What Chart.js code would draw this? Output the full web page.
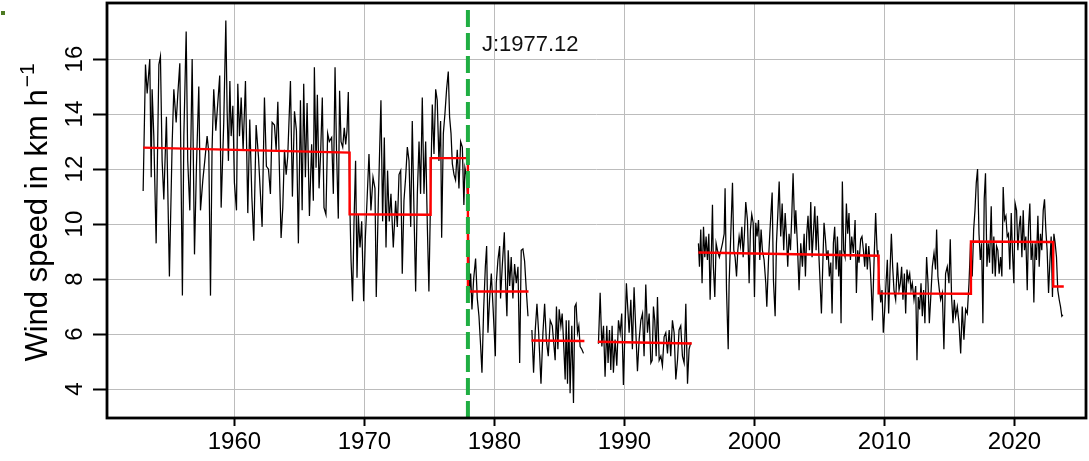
<!DOCTYPE html>
<html>
<head>
<meta charset="utf-8">
<script src="https://cdn.jsdelivr.net/npm/chart.js@4.4.0/dist/chart.umd.min.js"></script>
<style>
  html, body { margin: 0; padding: 0; background: #fff; }
  #wrap { position: relative; width: 1089px; height: 461px; }
</style>
</head>
<body>
<div id="wrap"><canvas id="windChart"></canvas></div>
<script>
// Monthly mean wind speed (km/h), one array pair per unbroken stretch
const yearsA = [1952.98,1953.16,1953.29,1953.49,1953.60,1953.67,1953.80,1953.98,1954.19,1954.31,1954.44,1954.57,1954.77,1955.00,1955.21,1955.34,1955.52,1955.65,1955.80,1956.00,
  1956.11,1956.29,1956.41,1956.57,1956.75,1956.93,1957.08,1957.26,1957.39,1957.57,1957.72,1957.90,1958.03,1958.16,1958.28,1958.41,1958.57,1958.72,1958.87,1958.98,
  1959.18,1959.34,1959.44,1959.54,1959.65,1959.75,1959.88,1960.00,1960.16,1960.26,1960.39,1960.52,1960.67,1960.85,1961.03,1961.18,1961.34,1961.49,1961.67,1961.85,
  1962.00,1962.13,1962.31,1962.46,1962.62,1962.77,1962.90,1963.08,1963.21,1963.34,1963.46,1963.59,1963.72,1963.85,1963.98,1964.10,1964.31,1964.46,1964.62,1964.77,
  1964.92,1965.08,1965.21,1965.33,1965.46,1965.59,1965.77,1965.94,1966.07,1966.15,1966.28,1966.38,1966.51,1966.63,1966.76,1966.89,1967.04,1967.17,1967.30,1967.48,
  1967.61,1967.74,1967.86,1967.99,1968.09,1968.20,1968.33,1968.45,1968.56,1968.66,1968.76,1968.86,1968.97,1969.09,1969.20,1969.32,1969.43,1969.53,1969.66,1969.79,
  1969.94,1970.07,1970.20,1970.35,1970.50,1970.66,1970.81,1970.91,1971.07,1971.27,1971.40,1971.53,1971.66,1971.78,1971.91,1972.04,1972.22,1972.40,1972.53,1972.66,
  1972.79,1972.91,1973.04,1973.17,1973.30,1973.43,1973.56,1973.68,1973.81,1973.94,1974.07,1974.20,1974.32,1974.45,1974.58,1974.71,1974.84,1974.96,1975.09,1975.22,
  1975.35,1975.48,1975.60,1975.73,1975.86,1975.94,1976.07,1976.19,1976.32,1976.45,1976.55,1976.66,1976.76,1976.89,1977.01,1977.14,1977.27,1977.40,1977.53,1977.65,
  1977.73,1977.83,1977.95,1978.09,1978.17,1978.27,1978.40,1978.55,1978.68,1978.81,1978.94,1979.04,1979.17,1979.30,1979.40,1979.50,1979.63,1979.76,1979.89,1980.07,
  1980.14,1980.27,1980.40,1980.47,1980.60,1980.76,1980.86,1980.96,1981.06,1981.17,1981.29,1981.42,1981.55,1981.68,1981.81,1981.94,1982.06,1982.19,1982.32,1982.45,
  1982.58];
const speedA = [11.2,15.8,14.75,16.0,11.7,14.9,13.2,9.3,15.8,16.1,12.3,10.9,13.9,8.1,12.9,14.9,13.7,14.75,15.85,7.4,
  13.2,17.0,12.3,10.5,16.0,8.9,12.1,15.0,10.5,11.6,12.3,13.2,12.6,7.4,12.7,14.9,13.4,14.4,15.4,10.6,
  13.7,17.4,14.1,12.3,15.2,13.2,14.3,11.5,10.5,15.1,13.2,14.6,12.7,15.2,10.4,13.8,11.0,9.4,13.6,12.45,
  11.1,9.9,14.6,12.1,12.0,11.1,13.7,13.6,12.7,14.45,12.0,9.5,10.6,12.7,11.8,12.45,15.2,11.0,14.1,13.4,
  9.3,14.5,10.5,15.1,11.7,14.4,10.3,12.9,10.85,15.7,12.05,14.7,11.3,12.55,14.6,10.6,10.35,13.3,13.0,13.15,
  11.1,15.7,12.55,10.2,14.85,13.0,12.8,13.5,12.9,13.4,14.8,11.1,8.7,7.2,10.1,12.3,8.05,10.35,9.15,10.1,
  7.2,9.5,10.85,12.55,10.5,11.7,11.3,7.35,10.85,14.5,10.1,13.15,9.15,11.95,10.1,11.1,9.15,10.85,9.9,11.8,
  11.95,8.2,10.85,11.7,12.8,12.3,9.9,13.75,10.5,7.55,11.1,13.0,11.1,14.6,11.1,13.0,9.9,7.55,11.1,14.35,
  12.55,14.9,14.5,12.3,13.75,9.5,13.3,14.0,14.9,15.55,13.9,13.3,12.2,11.8,11.6,12.7,11.3,13.0,12.8,10.7,
  12.05,11.8,10.9,7.6,8.2,6.9,8.0,8.75,7.3,6.65,5.55,4.6,6.9,8.45,9.2,6.05,7.3,8.2,7.0,5.2,
  7.85,8.7,9.2,7.3,8.45,9.7,7.85,6.65,9.05,7.75,8.8,7.3,8.55,7.85,8.45,4.95,9.05,9.1,8.65,7.6,
  6.65];
const yearsB = [1982.88,1983.01,1983.14,1983.27,1983.40,1983.58,1983.73,1983.86,1983.99,1984.14,1984.29,1984.45,1984.67,1984.77,1984.88,1984.98,1985.11,1985.21,1985.31,1985.44,
  1985.52,1985.62,1985.72,1985.82,1985.95,1986.08,1986.18,1986.28,1986.39,1986.49,1986.59,1986.72,1986.85];
const speedB = [6.15,4.6,6.15,7.1,6.05,4.2,6.05,7.1,5.8,5.2,6.5,6.3,5.05,7.0,5.45,6.9,6.3,6.75,5.8,4.35,
  6.5,4.2,6.5,3.85,6.3,3.5,7.0,7.1,6.05,6.3,5.55,5.45,5.3];
const yearsC = [1988.00,1988.13,1988.26,1988.39,1988.51,1988.64,1988.74,1988.85,1988.95,1989.05,1989.15,1989.28,1989.41,1989.54,1989.67,1989.79,1989.92,1990.05,1990.15,1990.26,
  1990.36,1990.49,1990.61,1990.74,1990.90,1991.00,1991.13,1991.26,1991.39,1991.51,1991.64,1991.77,1991.90,1992.03,1992.13,1992.23,1992.33,1992.44,1992.54,1992.67,
  1992.80,1992.92,1993.05,1993.18,1993.31,1993.44,1993.56,1993.69,1993.82,1993.95,1994.08,1994.20,1994.33,1994.46,1994.59,1994.72,1994.85,1994.97,1995.10];
const speedC = [5.65,7.5,5.55,6.3,4.45,6.3,4.95,6.15,4.7,6.3,4.6,5.8,4.85,6.5,6.05,6.75,4.15,6.3,7.85,6.9,
  6.05,7.25,5.45,7.7,5.8,4.65,5.8,6.5,6.75,5.2,7.8,6.05,6.75,4.95,5.05,7.0,6.5,5.2,7.35,5.05,
  5.2,4.85,5.9,6.05,5.3,6.15,5.2,6.5,6.05,4.35,5.05,6.15,6.3,5.2,4.95,7.1,4.2,5.45,5.7];
const yearsD = [1995.69,1995.77,1995.87,1995.97,1996.08,1996.18,1996.28,1996.38,1996.49,1996.59,1996.69,1996.77,1996.84,1996.95,1997.05,1997.15,1997.30,1997.54,1997.67,1997.74,
  1997.85,1997.98,1998.05,1998.18,1998.31,1998.41,1998.51,1998.62,1998.72,1998.82,1998.92,1999.03,1999.13,1999.23,1999.33,1999.46,1999.59,1999.69,1999.79,1999.90,
  2000.00,2000.10,2000.20,2000.31,2000.41,2000.51,2000.61,2000.74,2000.87,2000.95,2001.08,2001.18,2001.28,2001.36,2001.46,2001.59,2001.69,2001.79,2001.90,2002.02,
  2002.13,2002.25,2002.36,2002.46,2002.56,2002.66,2002.77,2002.87,2002.97,2003.10,2003.18,2003.30,2003.43,2003.56,2003.69,2003.82,2003.92,2004.02,2004.12,2004.23,
  2004.33,2004.43,2004.53,2004.64,2004.74,2004.84,2004.97,2005.05,2005.15,2005.25,2005.35,2005.46,2005.56,2005.66,2005.76,2005.87,2005.97,2006.07,2006.17,2006.28,
  2006.38,2006.48,2006.58,2006.66,2006.76,2006.86,2006.97,2007.07,2007.17,2007.27,2007.38,2007.48,2007.61,2007.74,2007.84,2007.94,2008.04,2008.17,2008.27,2008.38,
  2008.48,2008.58,2008.68,2008.79,2008.89,2008.99,2009.07,2009.20,2009.32,2009.43,2009.50,2009.61,2009.71,2009.81,2009.91,2010.02,2010.12,2010.22,2010.32,2010.43,
  2010.53,2010.63,2010.73,2010.86,2010.99,2011.12,2011.22,2011.32,2011.42,2011.53,2011.63,2011.73,2011.83,2011.94,2012.04,2012.14,2012.27,2012.40,2012.50,2012.60,
  2012.70,2012.81,2012.91,2013.01,2013.11,2013.24,2013.35,2013.45,2013.55,2013.68,2013.81,2013.93,2014.01,2014.11,2014.22,2014.32,2014.45,2014.57,2014.70,2014.83,
  2014.96,2015.06,2015.16,2015.27,2015.37,2015.47,2015.60,2015.73,2015.86,2015.98,2016.11,2016.24,2016.37,2016.50,2016.62,2016.75,2016.86,2016.96,2017.06,2017.16,
  2017.27,2017.37,2017.47,2017.57,2017.67,2017.77,2017.88,2017.98,2018.08,2018.21,2018.31,2018.41,2018.52,2018.62,2018.72,2018.82,2018.93,2019.03,2019.13,2019.23,
  2019.34,2019.44,2019.54,2019.64,2019.75,2019.85,2019.95,2020.05,2020.16,2020.26,2020.36,2020.46,2020.57,2020.67,2020.77,2020.87,2020.98,2021.08,2021.18,2021.28,
  2021.39,2021.49,2021.59,2021.69,2021.80,2021.90,2022.00,2022.10,2022.21,2022.31,2022.41,2022.51,2022.62,2022.72,2022.82,2022.92,2023.03,2023.13,2023.23,2023.33,
  2023.44,2023.54,2023.64,2023.72];
const speedD = [9.3,8.45,9.8,7.85,9.9,8.8,9.55,8.7,9.65,7.25,9.05,10.7,8.45,7.35,9.3,9.05,8.8,9.3,9.65,11.3,
  7.6,5.45,7.85,9.65,11.5,9.05,8.8,8.1,9.05,9.55,9.2,9.9,8.8,9.65,10.8,10.15,7.85,9.8,10.35,10.05,
  7.35,10.05,9.55,10.15,8.7,9.8,9.05,8.7,7.85,7.0,8.7,9.65,10.5,11.15,7.95,6.65,9.3,10.3,11.55,9.55,
  10.75,9.05,10.4,9.55,8.45,9.65,9.05,10.3,11.85,9.65,10.5,9.3,7.6,9.3,8.45,9.65,8.1,9.65,10.3,9.05,
  10.8,8.8,9.65,10.65,9.05,10.3,8.7,7.85,6.75,8.45,10.05,9.45,8.7,9.05,8.1,8.6,6.75,9.3,9.9,8.35,
  9.55,8.1,9.05,6.4,11.55,9.05,8.8,10.75,9.65,10.4,8.7,9.55,8.95,10.15,7.5,9.05,8.6,9.45,9.55,9.05,
  8.45,9.3,8.35,9.2,8.6,7.6,6.5,8.7,10.4,9.05,8.8,7.85,7.15,7.6,6.05,6.9,7.85,8.7,6.75,8.35,
  9.65,8.45,7.6,7.25,8.6,7.6,7.85,8.45,7.25,8.2,6.75,8.35,7.95,8.2,7.6,7.85,7.25,7.75,5.05,7.35,
  6.9,7.85,6.65,7.6,6.4,8.8,7.85,6.4,7.25,8.45,8.95,8.35,9.8,8.1,7.6,7.25,7.5,5.45,8.2,8.45,
  7.85,9.45,7.35,6.4,7.25,6.65,7.0,6.4,5.3,7.0,5.8,6.9,6.75,7.85,9.3,8.1,9.8,10.5,11.5,12.0,
  9.65,8.7,9.3,6.4,10.9,11.85,8.45,9.3,8.6,10.65,8.2,9.55,8.1,9.2,9.05,8.2,8.8,8.1,11.35,10.15,
  10.3,9.55,9.65,8.35,10.4,8.95,7.85,10.75,10.5,9.05,9.9,10.3,8.8,10.5,9.05,9.55,7.6,9.9,10.75,8.7,
  9.3,7.15,9.3,8.7,10.3,8.45,9.65,9.05,10.5,10.9,9.8,9.05,7.5,8.6,9.55,7.35,9.65,9.3,8.8,7.6,
  7.25,7.0,6.65,6.7];

// Segment means from the change-point fit (red)
const levelFrom  = [1952.98, 1968.86, 1975.09, 1977.96, 1982.85, 1987.95, 1995.69, 2009.55, 2016.65, 2022.98];
const levelTo    = [1968.86, 1975.09, 1977.96, 1982.62, 1986.92, 1995.18, 2009.55, 2016.65, 2022.98, 2023.79];
const levelStart = [12.78, 10.36, 12.4, 7.55, 5.77, 5.72, 8.97, 7.48, 9.37, 7.73];
const levelEnd   = [12.6, 10.34, 12.4, 7.55, 5.75, 5.66, 8.85, 7.47, 9.35, 7.73];

// Detected break
const breakYear = 1977.96;
const breakLabel = 'J:1977.12';
const breakLabelLevel = 16.5;

const xTicks = [1960, 1970, 1980, 1990, 2000, 2010, 2020];
const yTicks = [4, 6, 8, 10, 12, 14, 16];
const xMin = 1950.2, xMax = 2025.5;
const yMin = 2.95, yMax = 18.04;

const FONT = '"Liberation Sans", Arial, Helvetica, sans-serif';

function joinSegments(parts) {
    const out = [];
    parts.forEach(([xs, ys], i) => {
        if (i > 0) out.push({ x: xs[0], y: null });
        xs.forEach((x, j) => out.push({ x: x, y: ys[j] }));
    });
    return out;
}

const windPts = joinSegments([[yearsA, speedA], [yearsB, speedB], [yearsC, speedC], [yearsD, speedD]]);

const levelPts = [];
levelFrom.forEach((x0, i) => {
    if (i > 0 && x0 !== levelTo[i - 1]) levelPts.push({ x: x0, y: null });
    levelPts.push({ x: x0, y: levelStart[i] }, { x: levelTo[i], y: levelEnd[i] });
});

const decor = {
    id: 'decor',
    afterDatasetsDraw(chart) {
        const { ctx, chartArea: a, scales: { x, y } } = chart;
        ctx.save();
        // break label
        ctx.font = '22px ' + FONT;
        ctx.fillStyle = '#111';
        ctx.textAlign = 'left';
        ctx.textBaseline = 'middle';
        ctx.fillText(breakLabel, x.getPixelForValue(breakYear) + 14, y.getPixelForValue(breakLabelLevel));
        // frame
        ctx.strokeStyle = '#000';
        ctx.lineWidth = 2.8;
        ctx.strokeRect(a.left, a.top, a.right - a.left, a.bottom - a.top);
        // y axis title with superscript
        const main = 'Wind speed in km h', sup = '\u22121';
        ctx.font = '31px ' + FONT;
        const wMain = ctx.measureText(main).width;
        ctx.font = '21px ' + FONT;
        const wSup = ctx.measureText(sup).width;
        ctx.translate(47, (a.top + a.bottom) / 2 + 2);
        ctx.rotate(-Math.PI / 2);
        ctx.textBaseline = 'alphabetic';
        ctx.fillStyle = '#000';
        const x0 = -(wMain + wSup + 2) / 2;
        ctx.font = '31px ' + FONT;
        ctx.fillText(main, x0, 0);
        ctx.font = '21px ' + FONT;
        ctx.fillText(sup, x0 + wMain + 2, -13);
        ctx.restore();
        // small mark in the corner of the original figure
        ctx.save();
        ctx.fillStyle = '#4d7a22';
        ctx.fillRect(1, 11, 4, 4);
        ctx.restore();
    }
};

window.onload = () => {
    const ctx = document.getElementById('windChart').getContext('2d');
    new Chart(ctx, {
        type: 'line',
        data: {
            datasets: [{
                label: 'break',
                data: [{ x: breakYear, y: yMin }, { x: breakYear, y: yMax }],
                borderColor: '#1fae42',
                borderWidth: 4,
                borderDash: [17, 6],
                pointRadius: 0
            },
            {
                label: 'segment mean',
                data: levelPts,
                borderColor: '#ff0000',
                borderWidth: 2.4,
                pointRadius: 0,
                spanGaps: false
            },
            {
                label: 'wind speed',
                data: windPts,
                borderColor: '#000000',
                borderWidth: 1.25,
                pointRadius: 0,
                spanGaps: false
            }]
        },
        options: {
            responsive: true,
            maintainAspectRatio: false,
            devicePixelRatio: 1,
            animation: false,
            layout: { padding: { left: 0, top: 3, right: 3, bottom: 0 } },
            plugins: { legend: { display: false }, tooltip: { enabled: false } },
            elements: { line: { tension: 0 } },
            scales: {
                x: {
                    type: 'linear',
                    min: xMin,
                    max: xMax,
                    afterBuildTicks: s => { s.ticks = xTicks.map(v => ({ value: v })); },
                    afterFit: s => { s.height = 43; s.paddingLeft = 0; s.paddingRight = 0; },
                    border: { display: false },
                    grid: { color: '#bcbcbc', lineWidth: 1, tickLength: 8, tickColor: '#000', tickWidth: 2 },
                    ticks: {
                        autoSkip: false,
                        maxRotation: 0,
                        padding: 2,
                        color: '#000',
                        font: { family: FONT, size: 24 },
                        callback: v => String(v)
                    }
                },
                y: {
                    type: 'linear',
                    min: yMin,
                    max: yMax,
                    afterBuildTicks: s => { s.ticks = yTicks.map(v => ({ value: v })); },
                    afterFit: s => { s.width = 107; s.paddingTop = 0; s.paddingBottom = 0; },
                    border: { display: false },
                    grid: { color: '#bcbcbc', lineWidth: 1, tickLength: 14, tickColor: '#000', tickWidth: 2 },
                    ticks: {
                        autoSkip: false,
                        minRotation: 90,
                        maxRotation: 90,
                        crossAlign: 'center',
                        padding: 4,
                        color: '#000',
                        font: { family: FONT, size: 24 },
                        callback: v => String(v)
                    }
                }
            }
        },
        plugins: [decor]
    });
};
</script>
</body>
</html>
